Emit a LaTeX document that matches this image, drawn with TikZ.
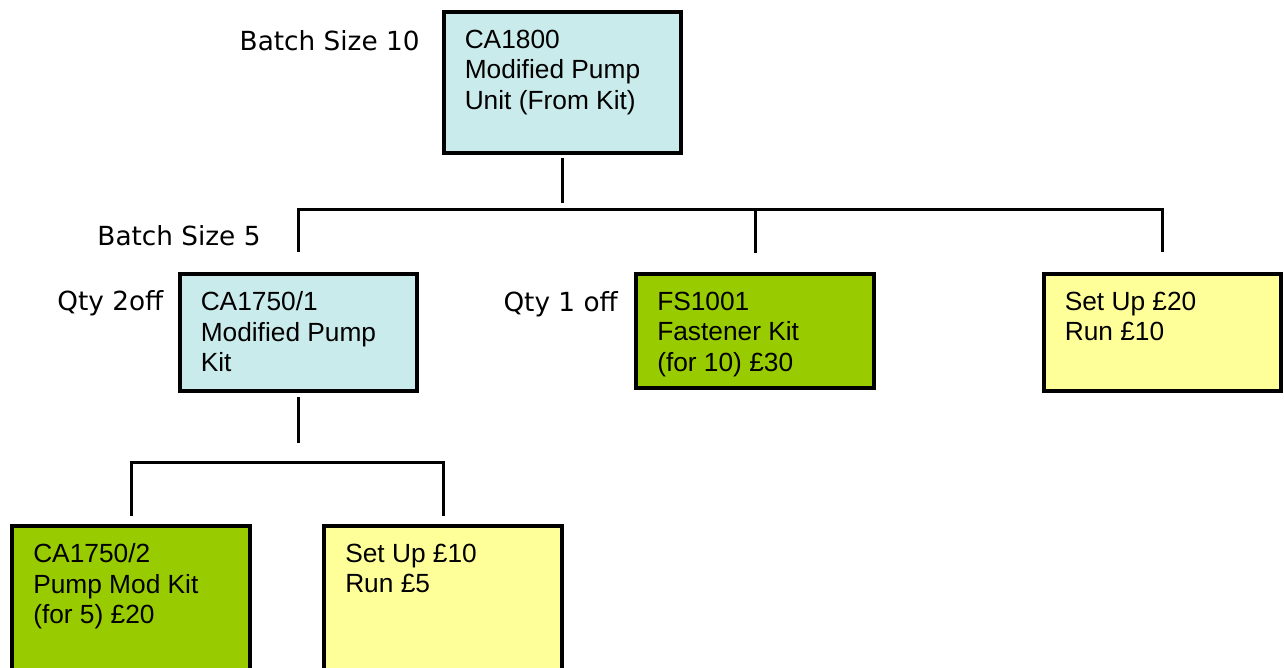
\documentclass[tikz,border=0pt]{standalone}
\usepackage{fontspec}
\setmainfont{Liberation Sans}
\newfontfamily\lblfont{DejaVu Sans}
\usetikzlibrary{calc}

\definecolor{kitblue}{RGB}{202,235,235}
\definecolor{partgreen}{RGB}{153,204,0}
\definecolor{opyellow}{RGB}{255,255,153}

\tikzset{every picture/.style={line width=3pt},
	partbox/.style={draw=black,line width=3.75pt,inner sep=0pt,outer sep=0pt,minimum width=237.5pt},
	boxtext/.style={anchor=north west,inner sep=0pt,align=left,font=\fontsize{26.3}{30.5}\selectfont},
	sidetext/.style={anchor=base east,inner sep=0pt,font=\lblfont\fontsize{26.3}{30}\selectfont},
	conn/.style={draw=black,line width=3pt}}

\begin{document}
\begin{tikzpicture}[x=1pt,y=1pt,yscale=-1,xscale=1]
		\useasboundingbox (0,0) rectangle (1284,668);
		\clip (0,0) rectangle (1284,668);
		
		%Boxes
		\node [partbox,fill=kitblue,minimum height=141.5pt] (ca1800) at (562.5,82.5) {};
		\node [partbox,fill=kitblue,minimum height=117.5pt] (ca1750a) at (298.5,332.5) {};
		\node [partbox,fill=partgreen,minimum height=114.5pt] (fs1001) at (755,331) {};
		\node [partbox,fill=opyellow,minimum height=117.5pt] (setup20) at (1162.5,332.5) {};
		\node [partbox,fill=partgreen,minimum height=200pt] (ca1750b) at (131,625.75) {};
		\node [partbox,fill=opyellow,minimum height=200pt] (setup10) at (443,625.75) {};
		
		%Straight Lines
		\coordinate (bus1) at (562.5,210);
		\draw [conn] ($(ca1800.south)+(0,4.5)$) -- ($(bus1)+(0,-7)$) ;
		%Straight Lines
		\draw [conn] ($(ca1750a.north)+(0,-22)$) |- ($(setup20.north)+(0,-63.75)$) -- ($(setup20.north)+(0,-22)$) ;
		%Straight Lines
		\draw [conn] ($(fs1001.north)+(0,-62.25)$) -- ($(fs1001.north)+(0,-20.5)$) ;
		%Straight Lines
		\draw [conn] ($(ca1750a.south)+(0,5.5)$) -- ($(ca1750a.south)+(0,51.5)$) ;
		%Straight Lines
		\draw [conn] ($(ca1750b.north)+(0,-10)$) |- ($(setup10.north)+(0,-63.75)$) -- ($(setup10.north)+(0,-10)$) ;
		
		% Text Node
		\node [boxtext] (t1800) at ($(ca1800.north west)+(19.5,16.5)$) {CA1800\\Modified Pump\\Unit (From Kit)};
		% Text Node
		\node [boxtext] (t1750a) at ($(ca1750a.north west)+(19.5,16.5)$) {CA1750/1\\Modified Pump\\Kit};
		% Text Node
		\node [boxtext] (t1001) at ($(fs1001.north west)+(19.5,16.5)$) {FS1001\\Fastener Kit\\(for 10) £30};
		% Text Node
		\node [boxtext] (tsetup20) at ($(setup20.north west)+(19.5,16.5)$) {Set Up £20\\Run £10};
		% Text Node
		\node [boxtext] (t1750b) at ($(ca1750b.north west)+(19.5,16.5)$) {CA1750/2\\Pump Mod Kit\\(for 5) £20};
		% Text Node
		\node [boxtext] (tsetup10) at ($(setup10.north west)+(19.5,16.5)$) {Set Up £10\\Run £5};
		
		% Text Node
		\node [sidetext] (batch10) at (421,51) {Batch Size 10};
		% Text Node
		\node [sidetext] (batch5) at (262,246) {Batch Size 5};
		% Text Node
		\node [sidetext] (qty2) at ($(ca1750a.north west)+(-15,36.25)$) {Qty 2off};
		% Text Node
		\node [sidetext] (qty1) at ($(fs1001.north west)+(-17,37.75)$) {Qty 1 off};
		
\end{tikzpicture}
\end{document}
